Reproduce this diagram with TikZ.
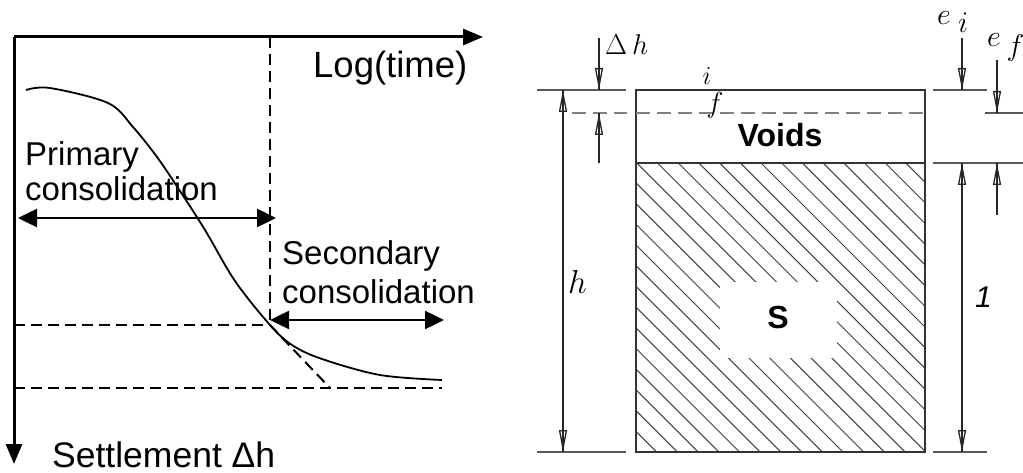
\documentclass[tikz,border=0pt]{standalone}
\usepackage{graphicx}
\usepackage{fontspec}
\setmainfont{Liberation Sans}
\usetikzlibrary{arrows.meta}
\begin{document}
\begin{tikzpicture}[x=1pt,y=-1pt,
  axis/.style={line width=3pt,-{Triangle[length=20pt,width=16pt]}},
  twoarr/.style={line width=2.5pt,{Triangle[length=19pt,width=18pt]}-{Triangle[length=19pt,width=18pt]}},
  dsh/.style={line width=2pt,dash pattern=on 11pt off 6pt},
  crv/.style={line width=1.8pt},
  lbl/.style={inner sep=0pt,anchor=base west,font=\fontsize{33}{36}\selectfont},
  thin/.style={black!65,line width=1.1pt},
  gdash/.style={black!50,line width=1.1pt,dash pattern=on 14pt off 7pt},
  tip/.style={black!85,line width=1.3pt,-{Triangle[open,length=22pt,width=8pt]}},
  tips/.style={black!85,line width=1.3pt,{Triangle[open,length=22pt,width=8pt]}-{Triangle[open,length=22pt,width=8pt]}},
  mth/.style={inner sep=0pt,font=\fontsize{20.74}{24}\selectfont},
  bold/.style={inner sep=0pt,font=\fontsize{32}{36}\selectfont\bfseries}]
\useasboundingbox (0,0) rectangle (1023,473);
% ---------- left: settlement vs log time ----------
\coordinate (O) at (14,37);
\coordinate (tx) at (483,37);
\coordinate (sy) at (14,464);
\draw[axis] (O) -- (tx);
\draw[axis] (O) -- (sy);
\coordinate (tp) at (270,37);
\coordinate (P) at (270,325);
\coordinate (hl) at (14,325);
\coordinate (bl) at (14,388);
\coordinate (br) at (442,388);
\coordinate (tan) at (330,388);
\draw[dsh] (tp) -- (P);
\draw[dsh] (hl) -- (P);
\draw[dsh] (bl) -- (br);
\draw[dsh] (P) -- (tan);
\draw[crv] plot[smooth,tension=0.55] coordinates {(26,90) (50,88) (108,103) (133,127) (157,157) (178,188) (205,230) (235,281) (270,325) (292,345) (322,359) (380,375) (442,380)};
\coordinate (pa) at (18,218);
\coordinate (pb) at (276,218);
\draw[twoarr] (pa) -- (pb);
\coordinate (sa) at (270,320);
\coordinate (sb) at (444,320);
\draw[twoarr] (sa) -- (sb);
\node[lbl,font=\fontsize{36.5}{40}\selectfont] (logt) at (313,78) {Log(time)};
\node[lbl] (prim1) at (25,166) {Primary};
\node[lbl] (prim2) at (25,201) {consolidation};
\node[lbl] (sec1) at (282,265) {Secondary};
\node[lbl] (sec2) at (282,303) {consolidation};
\node[lbl,font=\fontsize{35.5}{40}\selectfont] (settle) at (52,467) {Settlement Δh};
% ---------- right: phase diagram ----------
\begin{scope}
\clip (636,163) rectangle (925,452);
\foreach \n in {0,...,28} {
  \draw[black!75,line width=1pt] ({636+20.7*\n-289},163) -- ({636+20.7*\n},452);
}
\fill[white] (720,282) rectangle (837,358);
\end{scope}
\draw[black!80,line width=1.3pt] (636,90) rectangle (925,452);
\draw[black!80,line width=1.3pt] (636,163) -- (925,163);
\draw[gdash] (636,113) -- (925,113);
\node[bold] (voids) at (780,135) {Voids};
\node[bold] (S) at (778,317) {S};
\node[mth,anchor=base] (ilab) at (707,85) {\scalebox{1.25}{$i$}};
\node[mth,anchor=base] (flab) at (715,113) {\scalebox{1.4}{$f$}};
% left extension lines
\draw[thin] (537,90) -- (626,90);
\draw[gdash] (572,113) -- (627,113);
\draw[thin] (537,452) -- (626,452);
% h dimension
\coordinate (h1) at (563,90);
\coordinate (h2) at (563,452);
\draw[black!85,line width=1.3pt] (h1) -- (h2);
\draw[tips] (h1) -- (h2);
\node[mth,anchor=base west] (hlab) at (568,293) {\scalebox{1.6}{$h$}};
% delta h
\coordinate (d1) at (599,38);
\coordinate (d2) at (599,90);
\coordinate (d3) at (599,163);
\coordinate (d4) at (599,113);
\draw[black!85,line width=1.3pt] (d1) -- (d2);
\draw[tip] (d1) -- (d2);
\draw[black!85,line width=1.3pt] (d3) -- (d4);
\draw[tip] (d3) -- (d4);
\node[mth,anchor=base west] (dh) at (605,55) {\scalebox{1.38}{$\Delta\,h$}};
% right extension lines
\draw[thin] (933,90) -- (987,90);
\draw[thin] (985,113) -- (1023,113);
\draw[thin] (933,163) -- (1023,163);
\draw[thin] (933,452) -- (987,452);
% e_i
\coordinate (e1) at (962,38);
\coordinate (e2) at (962,90);
\draw[black!85,line width=1.3pt] (e1) -- (e2);
\draw[tip] (e1) -- (e2);
\coordinate (o1) at (962,163);
\coordinate (o2) at (962,452);
\draw[black!85,line width=1.3pt] (o1) -- (o2);
\draw[tips] (o1) -- (o2);
\node[inner sep=0pt,anchor=base west,font=\fontsize{30}{33}\selectfont\itshape] (one) at (975,307) {1};
% e_f
\coordinate (f1) at (997,60);
\coordinate (f2) at (997,113);
\draw[black!85,line width=1.3pt] (f1) -- (f2);
\draw[tip] (f1) -- (f2);
\coordinate (f3) at (997,215);
\coordinate (f4) at (997,163);
\draw[black!85,line width=1.3pt] (f3) -- (f4);
\draw[tip] (f3) -- (f4);
\node[mth,anchor=base west] (ei) at (937,25) {\scalebox{1.45}{$e$\hspace{5pt}\raisebox{-5.5pt}{$i$}}};
\node[mth,anchor=base west] (ef) at (987,47) {\scalebox{1.45}{$e$\hspace{4pt}\raisebox{-6pt}{$f$}}};
\end{tikzpicture}
\end{document}
